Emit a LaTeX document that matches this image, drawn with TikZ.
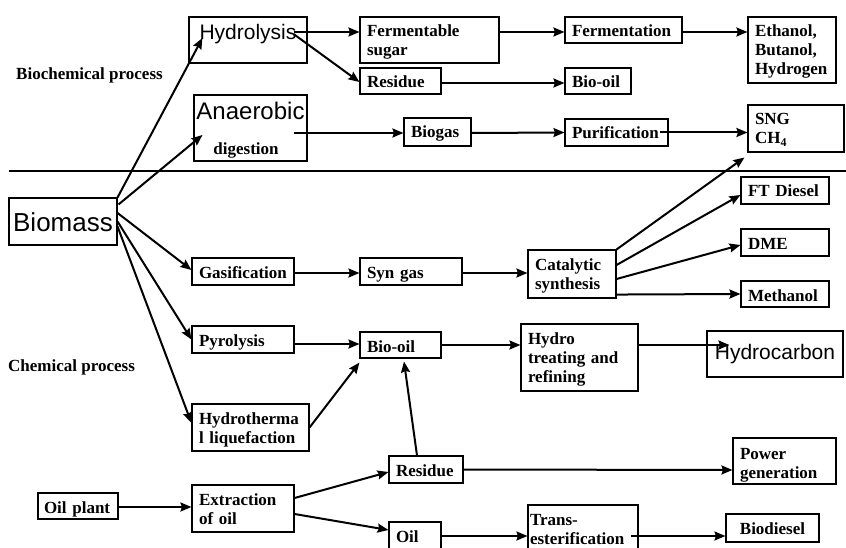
\documentclass[tikz,border=0pt]{standalone}
\usepackage{fontspec}
\setmainfont{Liberation Serif}
\newfontfamily\arialfont{Liberation Sans}
\usetikzlibrary{arrows.meta,calc}

\begin{document}
\begin{tikzpicture}[x=1pt,y=-1pt,
    box/.style={draw,line width=1.1pt,inner xsep=7pt,inner ysep=0pt,align=left,
      text height=20pt,text depth=#1,font=\bfseries\fontsize{17}{19}\selectfont},
    box/.default=7pt,
    sansbox/.style={inner xsep=0pt,align=center,font=\arialfont\fontsize{#1}{#1}\selectfont},
    lbl/.style={inner sep=0pt,anchor=west,font=\bfseries\fontsize{17}{19}\selectfont},
    flow/.style={line width=2pt,-{Stealth[length=11pt,width=9pt,inset=1.5pt]}}]
    \useasboundingbox (0,0) rectangle (846,548);
    \clip (0,0) rectangle (846,548);
    \node[lbl] (bioc) at (16,75) {Biochemical process};
    \node[lbl] (chem) at (8,367) {Chemical process};
    \draw[line width=1.2pt] (9,171) -- (846,171);
    \node[box=23pt,sansbox=21,text width=118pt,text height=23pt] (hyd) at (248,40) {Hydrolysis};
    \node[box=26pt,text width=125pt] (fsug) at (429.5,40) {Fermentable\\sugar};
    \node[box=6pt,text width=67pt] (res1) at (400.5,81) {Residue};
    \node[box=6pt,text width=103pt] (ferm) at (623.5,30) {Fermentation};
    \node[box=6pt,text width=52pt] (boil1) at (598,81) {Bio-oil};
    \node[box=46pt,text width=74pt] (eth) at (792,50) {Ethanol,\\Butanol,\\Hydrogen};
    \node[box=41.7pt,inner xsep=0pt,align=center,text width=113pt,text height=24.3pt] (anae) at (250.5,128)
      {{\arialfont\mdseries\fontsize{24}{26}\selectfont Anaerobic}\\[16pt]\hspace*{-9pt}digestion};
    \node[box=8pt,text width=53pt] (biogas) at (437.5,132) {Biogas};
    \node[box,text width=89pt] (puri) at (616.5,132.5) {Purification};
    \node[box=27pt,text width=82pt] (sng) at (796,128.5) {SNG\\CH\textsubscript{4}};
    \node[box=13pt,sansbox=26,text width=108pt,text height=34pt] (biomass) at (63,221.5) {Biomass};
    \node[box,text width=88pt] (gas) at (243,271.5) {Gasification};
    \node[box,text width=88pt] (syn) at (411,271.5) {Syn gas};
    \node[box=28pt,text width=74pt] (cat) at (572,274) {Catalytic\\synthesis};
    \node[box,text width=74pt] (ftd) at (785,190.5) {FT Diesel};
    \node[box,text width=74pt] (dme) at (785,242.5) {DME};
    \node[box=6pt,text width=74pt] (meth) at (785,294) {Methanol};
    \node[box,text width=88pt] (pyr) at (243,339.5) {Pyrolysis};
    \node[box=6pt,text width=67pt] (boil2) at (400.5,345) {Bio-oil};
    \node[box=47pt,text width=103pt] (hydt) at (579.5,357.5) {Hydro\\treating and\\refining};
    \node[box=18pt,sansbox=21,text width=136pt,text height=28pt] (hcarb) at (775,354) {Hydrocarbon};
    \node[box=27pt,text width=103pt] (htl) at (250.5,427.5) {Hydrotherma\\l liquefaction};
    \node[box,text width=60pt] (res2) at (426,469.5) {Residue};
    \node[box=24.5pt,text width=89pt,text height=21.5pt] (power) at (784.5,461) {Power\\generation};
    \node[box=6pt,inner xsep=6pt,text width=68pt] (oilp) at (78,506) {Oil plant};
    \node[box=27pt,text width=88pt] (extr) at (243,508.5) {Extraction\\of oil};
    \node[box=10pt,text width=38pt] (oil) at (415,537) {Oil};
    \node[box=30pt,inner xsep=2pt,text width=106pt] (trans) at (583,530) {Trans-\\esterification};
    \node[box=8pt,inner xsep=0pt,align=center,text width=93pt] (biod) at (772.5,528) {Biodiesel};
    \draw[flow] (biomass.north east) -- ($(hyd.west)+(14,-2)$);
    \draw[flow] ($(biomass.north east)+(1,7)$) -- ($(anae.west)+(9,7)$);
    \draw[flow] ($(biomass.east)+(0,-8.5)$) -- ($(gas.west)+(0,-1.5)$);
    \draw[flow] (biomass.east) -- (pyr.west);
    \draw[flow] ($(biomass.east)+(0,5)$) -- ($(htl.west)+(0,-4.5)$);
    \draw[flow] ($(hyd.east)+(-14,-8)$) -- ($(fsug.west)+(0,-8)$);
    \draw[flow] ($(hyd.east)+(-14,-6)$) -- ($(res1.west)+(0,1)$);
    \draw[flow] ($(fsug.east)+(0,-8)$) -- ($(ferm.west)+(0,2)$);
    \draw[flow] ($(ferm.east)+(0,2)$) -- ($(eth.west)+(0,-18)$);
    \draw[flow] ($(res1.east)+(0,2)$) -- ($(boil1.west)+(0,2)$);
    \draw[flow] ($(anae.east)+(-14,5)$) -- ($(biogas.west)+(0,1)$);
    \draw[flow] ($(biogas.east)+(0,1)$) -- (puri.west);
    \draw[flow] ($(puri.east)+(-9,0)$) -- ($(sng.west)+(0,4)$);
    \draw[flow] ($(gas.east)+(0,1.5)$) -- ($(syn.west)+(0,1.5)$);
    \draw[flow] ($(syn.east)+(0,1.5)$) -- ($(cat.west)+(0,-1)$);
    \draw[flow] (cat.north east) -- ($(sng.south west)+(-3,5)$);
    \draw[flow] ($(cat.east)+(0,-9)$) -- ($(ftd.west)+(0,4.5)$);
    \draw[flow] ($(cat.east)+(0,5)$) -- ($(dme.west)+(0,2.5)$);
    \draw[flow] ($(cat.south east)+(0,-4)$) -- (meth.west);
    \draw[flow] ($(pyr.east)+(0,4.5)$) -- ($(boil2.west)+(0,-1)$);
    \draw[flow] (htl.east) -- ($(boil2.south west)+(0,4)$);
    \draw[flow] ($(res2.north)+(-9,0)$) -- ($(boil2.south)+(3.5,3)$);
    \draw[flow] (boil2.east) -- ($(hydt.west)+(0,-12.5)$);
    \draw[flow] ($(hydt.east)+(0,-12.5)$) -- ($(hcarb.west)+(23,-9)$);
    \draw[flow] ($(oilp.east)+(0,1)$) -- ($(extr.west)+(0,-1.5)$);
    \draw[flow] ($(extr.east)+(0,-10.5)$) -- ($(res2.west)+(0,2.5)$);
    \draw[flow] ($(extr.east)+(0,5.5)$) -- ($(oil.west)+(0,-7)$);
    \draw[flow] (res2.east) -- ($(power.west)+(0,9)$);
    \draw[flow] ($(oil.east)+(0,-1)$) -- ($(trans.west)+(0,6)$);
    \draw[flow] ($(trans.east)+(-8,6)$) -- ($(biod.west)+(0,8)$);
\end{tikzpicture}
\end{document}
